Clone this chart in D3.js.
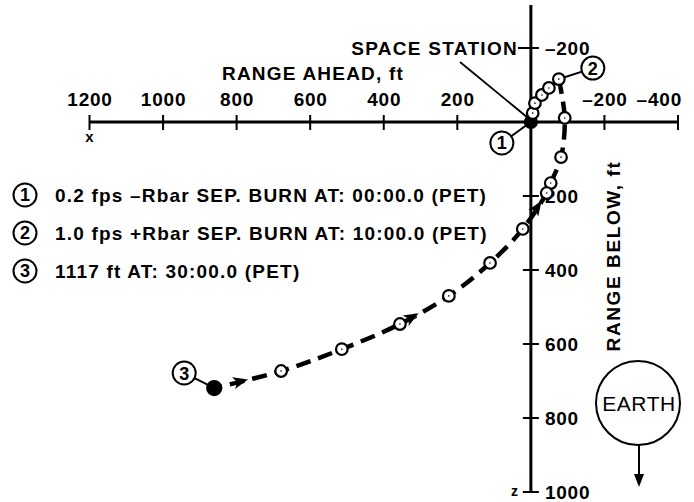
<!DOCTYPE html>
<html><head><meta charset="utf-8">
<script src="https://cdn.jsdelivr.net/npm/d3@7"></script>
<style>body{margin:0;background:#fff}svg{display:block}text{font-family:"Liberation Sans",Arial,sans-serif;fill:#000}</style>
</head><body>
<script>
// Data (ft): x = range ahead (positive left), z = range below (positive down)
const xTicks = [1200, 1000, 800, 600, 400, 200, 0, -200, -400];
const xTickLabels = ["1200", "1000", "800", "600", "400", "200", "", "\u2013200", "\u2013400"];
const zTicks = [-200, 200, 400, 600, 800, 1000];
const zTickLabels = ["\u2013200", "200", "400", "600", "800", "1000"];
const trajX = [0, -5, -11, -30, -49, -76, -92, -82, -54, -43, 22, 111, 223, 356, 514, 679, 861];
const trajZ = [0, -24, -51, -73, -92, -116, -11, 95, 165, 192, 289, 381, 470, 546, 614, 673, 719];
const filledIdx = [0, 16];
const arrowSeg = [[16, 15, 0.39], [13, 12, 0.24], [10, 9, 0.6]];
const legendItems = ["0.2 fps \u2013Rbar SEP. BURN AT: 00:00.0 (PET)", "1.0 fps +Rbar SEP. BURN AT: 10:00.0 (PET)", "1117 ft AT: 30:00.0 (PET)"];
const callouts = [{n: "1", idx: 0}, {n: "2", idx: 5}, {n: "3", idx: 16}];

const W = 694, H = 502;
const svg = d3.select("body").append("svg").attr("width", W).attr("height", H);
const x = d3.scaleLinear().domain([1200, -400]).range([89.5, 678]);
const z = d3.scaleLinear().domain([-200, 1000]).range([48, 492]);

function label(sel, size, ls) {
  return sel.attr("font-size", size).attr("font-weight", "bold").attr("letter-spacing", ls);
}

// X axis
svg.append("line").attr("x1", x(1200)).attr("x2", x(-400)).attr("y1", z(0)).attr("y2", z(0))
  .attr("stroke", "#000").attr("stroke-width", 3);
xTicks.forEach((t, i) => {
  svg.append("line").attr("x1", x(t)).attr("x2", x(t)).attr("y1", z(0) - 7).attr("y2", z(0) + 8)
    .attr("stroke", "#000").attr("stroke-width", 2);
  if (xTickLabels[i]) {
    const last = i === xTicks.length - 1;
    label(svg.append("text").attr("x", last ? x(t) + 4 : x(t) + 0.5).attr("y", z(0) - 16)
      .attr("text-anchor", last ? "end" : "middle"), 19, 0.8).text(xTickLabels[i]);
  }
});
label(svg.append("text").attr("x", x(1200)).attr("y", z(0) + 20).attr("text-anchor", "middle"), 15, 0).text("x");

// Z axis
svg.append("line").attr("x1", x(0)).attr("x2", x(0)).attr("y1", 5).attr("y2", z(1000))
  .attr("stroke", "#000").attr("stroke-width", 3);
zTicks.forEach((t, i) => {
  svg.append("line").attr("x1", x(0) - 8).attr("x2", x(0) + 8).attr("y1", z(t)).attr("y2", z(t))
    .attr("stroke", "#000").attr("stroke-width", 2);
  label(svg.append("text").attr("x", x(0) + 14).attr("y", z(t)).attr("dy", "0.36em"), 19, 0.8).text(zTickLabels[i]);
});
label(svg.append("text").attr("x", x(0) - 13).attr("y", z(1000)).attr("dy", "0.3em").attr("text-anchor", "end"), 14, 0).text("z");

// Axis titles
label(svg.append("text").attr("x", 404).attr("y", 80).attr("text-anchor", "end"), 19, 1.2).text("RANGE AHEAD, ft");
label(svg.append("text").attr("transform", "translate(620,256) rotate(-90)").attr("text-anchor", "middle"), 19, 1.6).text("RANGE BELOW, ft");

// Space station label
label(svg.append("text").attr("x", 518).attr("y", z(-200)).attr("dy", "0.36em").attr("text-anchor", "end"), 19, 1.3).text("SPACE STATION");
svg.append("line").attr("x1", 518).attr("x2", x(0)).attr("y1", z(-200)).attr("y2", z(-200))
  .attr("stroke", "#000").attr("stroke-width", 2);
svg.append("line").attr("x1", 460).attr("y1", 62).attr("x2", x(0) - 4).attr("y2", z(0) - 5)
  .attr("stroke", "#000").attr("stroke-width", 1.8);

// Trajectory
const pts = trajX.map((v, i) => [x(v), z(trajZ[i])]);
const line = d3.line().curve(d3.curveCatmullRom.alpha(0.5));
svg.append("path").attr("d", line(pts.slice(0, 6))).attr("fill", "none").attr("stroke", "#000").attr("stroke-width", 3);
svg.append("path").attr("d", line(pts.slice(5))).attr("fill", "none").attr("stroke", "#000")
  .attr("stroke-width", 4.5).attr("stroke-dasharray", "15,8");

// Arrows
arrowSeg.forEach(([a, b, t]) => {
  const p = [pts[a][0] + (pts[b][0] - pts[a][0]) * t, pts[a][1] + (pts[b][1] - pts[a][1]) * t];
  const ang = Math.atan2(pts[b][1] - pts[a][1], pts[b][0] - pts[a][0]) * 180 / Math.PI;
  svg.append("path").attr("d", "M8,0 L-7,-6 L-3,0 L-7,6 Z").attr("fill", "#000")
    .attr("transform", `translate(${p[0]},${p[1]}) rotate(${ang})`);
});

// Points
pts.forEach((p, i) => {
  const filled = filledIdx.includes(i);
  svg.append("circle").attr("cx", p[0]).attr("cy", p[1]).attr("r", filled ? (i === 0 ? 6 : 7) : 5.8)
    .attr("fill", filled ? "#000" : "#fff").attr("stroke", "#000").attr("stroke-width", 2.2);
  if (!filled) svg.append("circle").attr("cx", p[0]).attr("cy", p[1]).attr("r", 0.8).attr("fill", "#000");
});

// Callouts
const calloutOff = {"1": [-29, 21], "2": [34, -11], "3": [-30, -15]};
callouts.forEach(c => {
  const p = pts[c.idx];
  const o = calloutOff[c.n];
  const cx = p[0] + o[0], cy = p[1] + o[1];
  const d = Math.hypot(o[0], o[1]);
  const r = 11.5;
  const startR = c.idx === 5 ? 6 : 3;
  svg.append("line").attr("x1", p[0] + o[0] / d * startR).attr("y1", p[1] + o[1] / d * startR)
    .attr("x2", cx - o[0] / d * r).attr("y2", cy - o[1] / d * r).attr("stroke", "#000").attr("stroke-width", 2);
  svg.append("circle").attr("cx", cx).attr("cy", cy).attr("r", r).attr("fill", "#fff").attr("stroke", "#000").attr("stroke-width", 2);
  label(svg.append("text").attr("x", cx).attr("y", cy).attr("dy", "0.36em").attr("text-anchor", "middle"), 18, 0).text(c.n);
});

// Legend
legendItems.forEach((s, i) => {
  const y = 195 + i * 38;
  svg.append("circle").attr("cx", 25).attr("cy", y).attr("r", 11.5).attr("fill", "#fff").attr("stroke", "#000").attr("stroke-width", 2);
  label(svg.append("text").attr("x", 25).attr("y", y).attr("dy", "0.36em").attr("text-anchor", "middle"), 18, 0).text(String(i + 1));
  label(svg.append("text").attr("x", 55).attr("y", y).attr("dy", "0.36em"), 19, 1.2).text(s);
});

// Earth
svg.append("circle").attr("cx", 638).attr("cy", 403).attr("r", 42).attr("fill", "#fff").attr("stroke", "#000").attr("stroke-width", 2);
svg.append("text").attr("x", 639).attr("y", 403).attr("dy", "0.36em").attr("text-anchor", "middle")
  .attr("font-size", 21).attr("letter-spacing", 0.5).text("EARTH");
svg.append("line").attr("x1", 639).attr("x2", 639).attr("y1", 445).attr("y2", 476).attr("stroke", "#000").attr("stroke-width", 2);
svg.append("path").attr("d", "M634,474 L644,474 L639,487 Z").attr("fill", "#000");
</script>
</body></html>
